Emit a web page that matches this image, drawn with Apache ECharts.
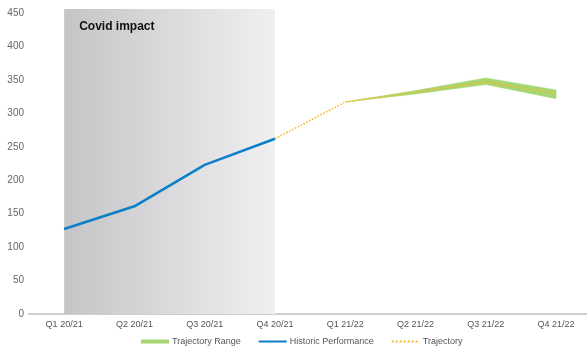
<!DOCTYPE html>
<html>
<head>
<meta charset="utf-8">
<script src="https://cdn.jsdelivr.net/npm/echarts@6/dist/echarts.min.js"></script>
<style>
  html, body { margin: 0; padding: 0; background: #fff; }
  #chart { width: 587px; height: 351px; }
</style>
</head>
<body>
<div id="chart"></div>
<script>
const quarters = ['Q1 20/21', 'Q2 20/21', 'Q3 20/21', 'Q4 20/21', 'Q1 21/22', 'Q2 21/22', 'Q3 21/22', 'Q4 21/22'];
const historic = [127, 161, 223, 262, null, null, null, null];
const trajectory = [null, null, null, 262, 317, 332, 347, 330];
const rangeLow = [null, null, null, null, 317, 329, 343, 322];
const rangeHigh = [null, null, null, null, 317, 334, 353, 335];

// pair each value with its quarter index so the x axis can run past the last slot
const pts = arr => arr.map((v, i) => [i, v]);
const bandIdx = rangeHigh.map((v, i) => i).filter(i => rangeHigh[i] != null);
const font = 'Liberation Sans, Arial, sans-serif';
const green = '#a5d672';

const chart = echarts.init(document.getElementById('chart'));
chart.setOption({
  animation: false,
  grid: { left: 29, right: 0, top: 9, height: 305, containLabel: false },
  legend: {
    bottom: 0,
    left: 136,
    itemWidth: 28,
    itemHeight: 4,
    itemGap: 17,
    textStyle: { color: '#555', fontSize: 9, fontFamily: font, padding: [0, 0, 0, -2] },
    data: [
      { name: 'Trajectory Range', icon: 'rect', itemStyle: { color: green } },
      { name: 'Historic Performance', itemStyle: { opacity: 0 } },
      { name: 'Trajectory', itemStyle: { opacity: 0 } }
    ]
  },
  xAxis: {
    type: 'value',
    min: -0.5,
    max: 7.44,
    splitLine: { show: false },
    axisLine: { lineStyle: { color: '#cfcfcf', width: 2 } },
    axisTick: { show: false },
    axisLabel: {
      color: '#555', fontSize: 9, fontFamily: font, margin: 6,
      customValues: quarters.map((q, i) => i),
      formatter: v => quarters[v] || ''
    }
  },
  yAxis: {
    type: 'value',
    min: 0,
    max: 456,
    interval: 50,
    splitLine: { show: false },
    axisLine: { show: false },
    axisTick: { show: false },
    axisLabel: {
      color: '#666', fontSize: 10, fontFamily: font, margin: 5, showMaxLabel: false,
      formatter: v => (v % 50 === 0 ? String(v) : '')
    }
  },
  series: [
    {
      name: 'Trajectory Range',
      type: 'custom',
      data: bandIdx.map(i => [i, rangeHigh[i]]),
      itemStyle: { color: green },
      z: 2,
      renderItem: (params, api) => {
        if (params.dataIndex !== 0) return;
        const top = bandIdx.map(i => api.coord([i, rangeHigh[i]]));
        const bottom = bandIdx.slice().reverse().map(i => api.coord([i, rangeLow[i]]));
        return {
          type: 'polygon',
          shape: { points: top.concat(bottom) },
          style: { fill: green, stroke: green, lineWidth: 0.5 }
        };
      }
    },
    {
      name: 'Historic Performance',
      type: 'line',
      data: pts(historic),
      symbol: 'none',
      itemStyle: { color: '#0b7fc7' },
      lineStyle: { color: '#0b7fc7', width: 2.5 },
      z: 3,
      markArea: {
        silent: true,
        itemStyle: {
          color: new echarts.graphic.LinearGradient(0, 0, 1, 0, [
            { offset: 0, color: '#c5c5c7' },
            { offset: 1, color: '#f0eff1' }
          ])
        },
        label: {
          show: true,
          position: 'insideTopLeft',
          distance: 0,
          offset: [15, 12],
          color: '#111',
          fontSize: 12,
          fontWeight: 'bold',
          fontFamily: font
        },
        data: [[
          { name: 'Covid impact', xAxis: 0, yAxis: 456 },
          { xAxis: 3, yAxis: 0 }
        ]]
      }
    },
    {
      name: 'Trajectory',
      type: 'line',
      data: pts(trajectory),
      symbol: 'none',
      itemStyle: { color: '#f5bb2c' },
      lineStyle: { color: '#f5bb2c', width: 1.6, type: 'dotted' },
      z: 4
    }
  ]
});
</script>
</body>
</html>
